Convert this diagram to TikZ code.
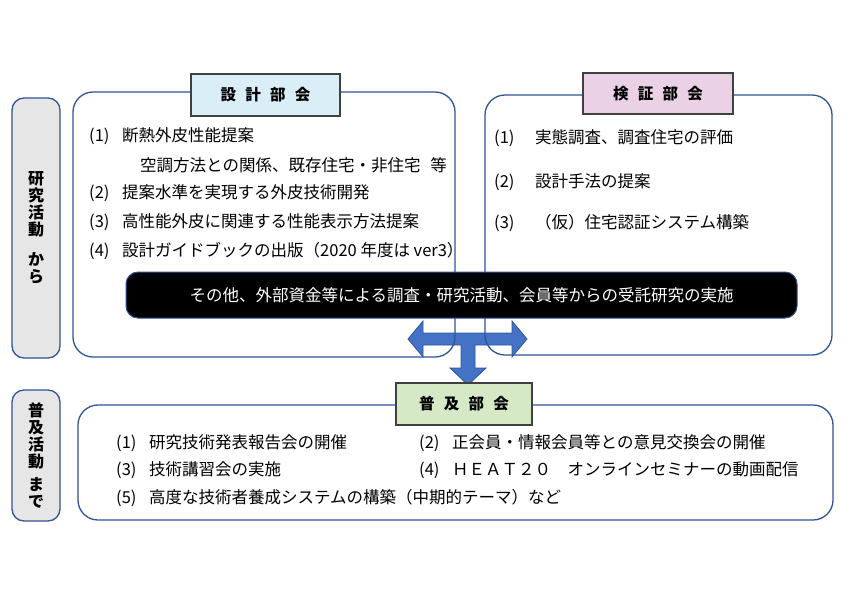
\documentclass[tikz,border=0pt]{standalone}
\usepackage{fontspec}
\setmainfont{Noto Sans CJK JP}
\definecolor{bordblue}{RGB}{47,85,151}
\definecolor{arrowblue}{RGB}{68,114,196}
\definecolor{labelgray}{RGB}{231,230,230}
\definecolor{titleblue}{RGB}{218,238,247}
\definecolor{titlepink}{RGB}{234,209,230}
\definecolor{titlegreen}{RGB}{214,233,198}
\definecolor{titleframe}{RGB}{64,64,64}
\begin{document}
\begin{tikzpicture}[x=1pt,y=-1pt,
  sidelabel/.style={draw=bordblue, line width=1.3pt, fill=labelgray, rounded corners=12pt, minimum width=48pt, align=center, font=\bfseries\fontsize{16}{17}\selectfont, inner sep=0pt},
  groupbox/.style={draw=bordblue, line width=1.3pt, rounded corners=20pt, inner sep=0pt},
  titlebox/.style={draw=titleframe, line width=1.3pt, inner sep=0pt, font=\bfseries\fontsize{15.5}{18}\selectfont},
  item/.style={anchor=west, inner sep=0pt, font=\fontsize{16.5}{20}\selectfont},
  blackbar/.style={draw=bordblue, line width=1pt, fill=black, text=white, rounded corners=12pt, inner sep=0pt, font=\fontsize{16.5}{20}\selectfont},
  blockarrow/.style={draw=bordblue, line width=0.8pt, fill=arrowblue}
]
\useasboundingbox (0,0) rectangle (842,595);
\fill[white] (0,0) rectangle (842,595);

% three-way block arrow (behind the box outlines)
\coordinate (hub) at (468,339);
\begin{scope}[shift={(hub)}]
\draw[blockarrow] (-60,0) -- (-45,-18) -- (-45,-6) -- (44,-6) -- (44,-18) -- (59,0) -- (44,18) -- (44,6)
  -- (7,6) -- (7,29) -- (18,29) -- (0,46) -- (-18,29) -- (-7,29) -- (-7,6) -- (-45,6) -- (-45,18) -- cycle;
\end{scope}

% side labels
\node[sidelabel, minimum height=260pt] (lab1) at (36,228) {研\\究\\活\\動\\[13pt]か\\ら};
\node[sidelabel, minimum height=131pt] (lab2) at (36,455.5) {普\\及\\活\\動\\[6pt]ま\\で};

% group boxes
\node[groupbox, minimum width=382pt, minimum height=265pt] (design) at (264,224.5) {};
\node[groupbox, minimum width=347pt, minimum height=260pt] (verify) at (658.5,225) {};
\node[groupbox, minimum width=755pt, minimum height=115pt] (spread) at (455.5,462.5) {};

% black bar
\node[blackbar, minimum width=671pt, minimum height=46pt] (other) at (461.5,295) {その他、外部資金等による調査・研究活動、会員等からの受託研究の実施};

% titles
\node[titlebox, fill=titleblue, minimum width=149pt, minimum height=42pt] (tdesign) at (265.5,95) {設\hspace{0.6em}計\hspace{0.6em}部\hspace{0.6em}会};
\node[titlebox, fill=titlepink, minimum width=150pt, minimum height=41pt] (tverify) at (658,93.5) {検\hspace{0.6em}証\hspace{0.6em}部\hspace{0.6em}会};
\node[titlebox, fill=titlegreen, minimum width=136pt, minimum height=42pt] (tspread) at (464,404) {普\hspace{0.6em}及\hspace{0.6em}部\hspace{0.6em}会};

% design items
\node[item] (d1) at (89,136) {\makebox[33pt][l]{(1)}断熱外皮性能提案};
\node[item] (d1b) at (140,165) {空調方法との関係、既存住宅・非住宅\hspace{0.6em}等};
\node[item] (d2) at (89,193) {\makebox[33pt][l]{(2)}提案水準を実現する外皮技術開発};
\node[item] (d3) at (89,222) {\makebox[33pt][l]{(3)}高性能外皮に関連する性能表示方法提案};
\node[item] (d4) at (89,251) {\makebox[33pt][l]{(4)}設計ガイドブックの出版（2020 年度は ver3）};

% verify items
\node[item] (v1) at (494,138) {\makebox[41pt][l]{(1)}実態調査、調査住宅の評価};
\node[item] (v2) at (494,182) {\makebox[41pt][l]{(2)}設計手法の提案};
\node[item] (v3) at (494,223) {\makebox[41pt][l]{(3)}（仮）住宅認証システム構築};

% spread items
\node[item] (s1) at (116,443) {\makebox[33pt][l]{(1)}研究技術発表報告会の開催};
\node[item] (s2) at (419,443) {\makebox[33pt][l]{(2)}正会員・情報会員等との意見交換会の開催};
\node[item] (s3) at (116,470) {\makebox[33pt][l]{(3)}技術講習会の実施};
\node[item] (s4) at (419,470) {\makebox[33pt][l]{(4)}ＨＥＡＴ２０　オンラインセミナーの動画配信};
\node[item] (s5) at (116,498) {\makebox[33pt][l]{(5)}高度な技術者養成システムの構築（中期的テーマ）など};
\end{tikzpicture}
\end{document}
